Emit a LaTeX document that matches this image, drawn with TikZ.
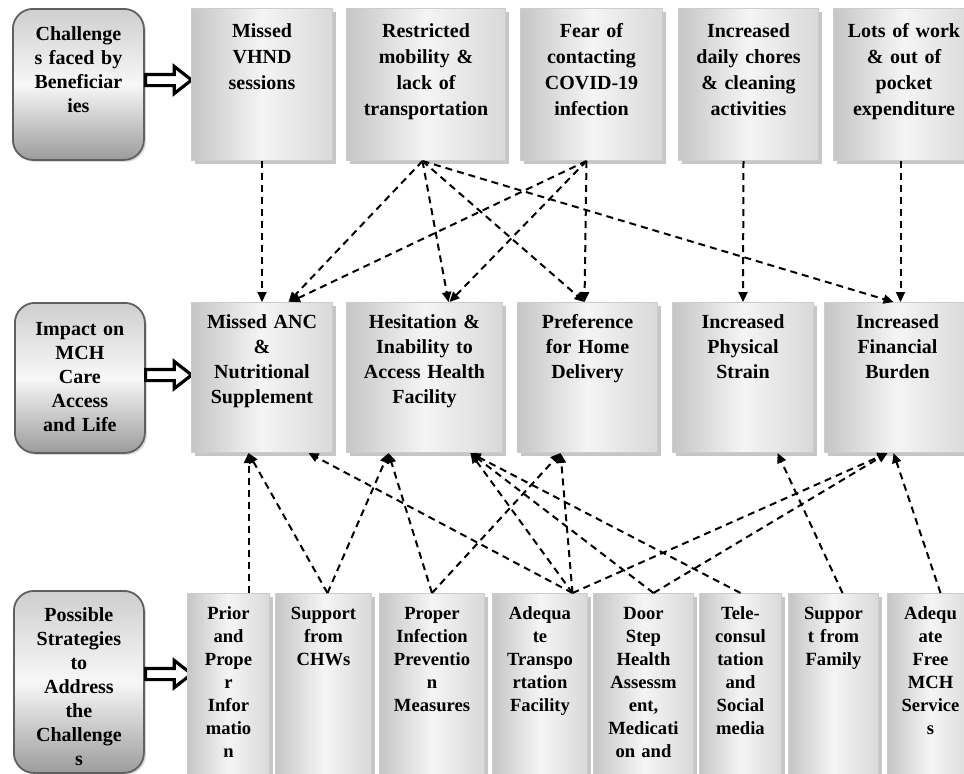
\documentclass[tikz,border=0pt]{standalone}
\usepackage{fontspec}
\setmainfont{Liberation Serif}
\usetikzlibrary{calc,shapes.arrows,shadows,arrows.meta}

\tikzset{
  sidebox/.style={draw=gray!75!black, line width=0.9pt, rounded corners=10pt,
    top color=gray!38, bottom color=gray!78, middle color=gray!6,
    drop shadow={shadow xshift=1pt, shadow yshift=-1pt, opacity=0.3},
    anchor=north west, inner sep=0pt, align=center, text width=#1,
    font=\bfseries\fontsize{10}{12}\selectfont},
  itembox/.style={draw=gray!40, line width=0.5pt,
    left color=gray!45, right color=gray!30, middle color=gray!8,
    drop shadow={shadow xshift=1.5pt, shadow yshift=-1.5pt, opacity=0.45},
    anchor=north west, inner sep=0pt, align=center, text width=#1},
  toprow/.style={itembox=#1, font=\bfseries\fontsize{10}{13}\selectfont,
    text height=14.25pt, text depth=61.75pt},
  midrow/.style={itembox=#1, font=\bfseries\fontsize{10}{12.5}\selectfont,
    text height=13pt, text depth=62pt},
  lowrow/.style={itembox=#1, font=\bfseries\fontsize{9.3}{11.5}\selectfont,
    text height=13pt, text depth=80.5pt},
  hollowarrow/.style={single arrow, draw=black, fill=white, line width=1.6pt,
    inner sep=2pt, minimum height=23pt, single arrow head extend=4pt,
    single arrow tip angle=76, anchor=tail},
  dasharrow/.style={draw=black, line width=1pt, dash pattern=on 3.5pt off 2.5pt,
    -{Triangle[length=5pt,width=4.5pt]}}
}

\begin{document}
\begin{tikzpicture}[x=0.5pt, y=-0.5pt]
\useasboundingbox (0,0) rectangle (964,773);
\clip (0,0) rectangle (964,773);

% row headings
\node[sidebox=65.5pt, text height=16pt, text depth=59.5pt] (chal) at (12,8) {Challenge\\s faced by\\Beneficiar\\ies};
\node[sidebox=65pt, text height=16.5pt, text depth=58.5pt] (imp) at (14,302) {Impact on\\MCH\\Care\\Access\\and Life};
\node[sidebox=65pt, text height=15.5pt, text depth=75.5pt] (strat) at (13,590) {Possible\\Strategies\\to\\Address\\the\\Challenge\\s};

\node[hollowarrow] (arrA) at (144,80) {};
\node[hollowarrow] (arrB) at (144,375) {};
\node[hollowarrow] (arrC) at (144,674) {};

% challenges
\node[toprow=70.5pt] (vhnd) at (191,8) {Missed\\VHND\\sessions};
\node[toprow=79.5pt] (rest) at (346,8) {Restricted\\mobility \&\\lack of\\transportation};
\node[toprow=71pt] (fear) at (520,8) {Fear of\\contacting\\COVID-19\\infection};
\node[toprow=70pt] (chores) at (678,8) {Increased\\daily chores\\\& cleaning\\activities};
\node[toprow=70.5pt] (work) at (833,8) {Lots of work\\\& out of\\pocket\\expenditure};

% impacts
\node[midrow=70.5pt] (anc) at (191,302) {Missed ANC\\\&\\Nutritional\\Supplement};
\node[midrow=78pt] (hes) at (346,302) {Hesitation \&\\Inability to\\Access Health\\Facility};
\node[midrow=70pt] (pref) at (517,302) {Preference\\for Home\\Delivery};
\node[midrow=70.5pt] (phys) at (672,302) {Increased\\Physical\\Strain};
\node[midrow=73pt] (fin) at (824,302) {Increased\\Financial\\Burden};

% strategies
\node[lowrow=41pt] (prior) at (187,593) {Prior\\and\\Prope\\r\\Infor\\matio\\n};
\node[lowrow=48pt] (chw) at (275,593) {Support\\from\\CHWs};
\node[lowrow=52.5pt] (ipm) at (379,593) {Proper\\Infection\\Preventio\\n\\Measures};
\node[lowrow=47.5pt] (trans) at (492,593) {Adequa\\te\\Transpo\\rtation\\Facility};
\node[lowrow=50pt] (door) at (593,593) {Door\\Step\\Health\\Assessm\\ent,\\Medicati\\on and};
\node[lowrow=41pt] (tele) at (699,593) {Tele-\\consul\\tation\\and\\Social\\media};
\node[lowrow=45pt] (family) at (788,593) {Suppor\\t from\\Family};
\node[lowrow=43pt] (free) at (887,593) {Adequ\\ate\\Free\\MCH\\Service\\s};

% challenges -> impacts
\draw[dasharrow] (vhnd.south) -- (anc.north);
\draw[dasharrow] ($(rest.south)+(-3.5,0)$) -- ($(anc.north)+(26.5,0)$);
\draw[dasharrow] ($(rest.south)+(-3.5,0)$) -- ($(hes.north)+(24,0)$);
\draw[dasharrow] ($(rest.south)+(-3.5,0)$) -- ($(pref.north)+(-3,0)$);
\draw[dasharrow] ($(rest.south)+(-3.5,0)$) -- ($(fin.north)+(-4,0)$);
\draw[dasharrow] ($(fear.south)+(-5,0)$) -- ($(anc.north)+(28,0)$);
\draw[dasharrow] ($(fear.south)+(-5,0)$) -- ($(hes.north)+(25,0)$);
\draw[dasharrow] ($(fear.south)+(-5,0)$) -- ($(pref.north)+(-3,0)$);
\draw[dasharrow] ($(chores.south)+(-5,0)$) -- (phys.north);
\draw[dasharrow] ($(work.south)+(-3.5,0)$) -- ($(fin.north)+(3,0)$);

% strategies -> impacts
\draw[dasharrow] ($(prior.north)+(20,0)$) -- ($(anc.south)+(-13.5,0)$);
\draw[dasharrow] ($(chw.north)+(4,0)$) -- ($(anc.south)+(-13.5,0)$);
\draw[dasharrow] ($(chw.north)+(4,0)$) -- ($(hes.south)+(-36,0)$);
\draw[dasharrow] (ipm.north) -- ($(hes.south)+(-36,0)$);
\draw[dasharrow] (ipm.north) -- ($(pref.south)+(-27,0)$);
\draw[dasharrow] ($(trans.north)+(32.5,0)$) -- ($(anc.south)+(46.5,0)$);
\draw[dasharrow] ($(trans.north)+(32.5,0)$) -- ($(hes.south)+(46,0)$);
\draw[dasharrow] ($(trans.north)+(32.5,0)$) -- ($(pref.south)+(-27,0)$);
\draw[dasharrow] ($(trans.north)+(32.5,0)$) -- ($(fin.south)+(-10,0)$);
\draw[dasharrow] ($(door.north)+(10,0)$) -- ($(hes.south)+(46,0)$);
\draw[dasharrow] ($(door.north)+(10,0)$) -- ($(fin.south)+(-10,0)$);
\draw[dasharrow] (tele.north) -- ($(hes.south)+(46,0)$);
\draw[dasharrow] ($(family.north)+(9,0)$) -- ($(phys.south)+(34.5,0)$);
\draw[dasharrow] ($(free.north)+(10,0)$) -- ($(fin.south)+(-4,0)$);

\end{tikzpicture}
\end{document}
